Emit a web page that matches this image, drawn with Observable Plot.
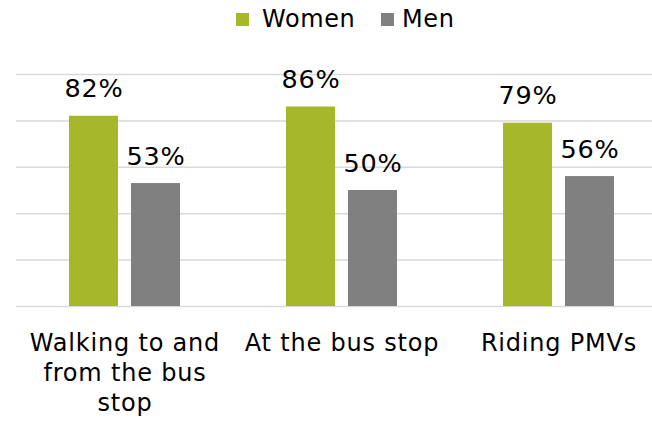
<!DOCTYPE html>
<html>
<head>
<meta charset="utf-8">
<script src="https://cdn.jsdelivr.net/npm/d3@7"></script>
<script src="https://cdn.jsdelivr.net/npm/@observablehq/plot@0.6"></script>
<style>
  html, body { margin: 0; padding: 0; background: #fff; overflow: hidden; width: 652px; height: 426px; }
  #legend { height: 37px; position: relative; font-family: "DejaVu Sans", sans-serif; font-size: 24px; letter-spacing: 0.6px; color: #000; }
  .item { position: absolute; top: 0; height: 37px; display: flex; align-items: center; }
  .sw { width: 13px; height: 13px; display: inline-block; margin-right: 13px; margin-top: 2px; }
  #chart svg { display: block; }
  #chart svg text { letter-spacing: 0.8px; }
</style>
</head>
<body>
<div id="legend"></div>
<div id="chart"></div>
<script>
const categories = ["Walking to and from the bus stop", "At the bus stop", "Riding PMVs"];
const categoryLabels = ["Walking to and\nfrom the bus\nstop", "At the bus stop", "Riding PMVs"];
const series = ["Women", "Men"];
const seriesColors = ["#a6b829", "#808080"];
const women = [82, 86, 79];
const men = [53, 50, 56];
const gridTicks = [0, 20, 40, 60, 80, 100];

const data = categories.flatMap((c, i) => [
  {category: c, gender: "Women", value: women[i]},
  {category: c, gender: "Men", value: men[i]}
]);

// legend
const legend = document.getElementById("legend");
const legendX = [236, 381];
series.forEach((s, i) => {
  const item = document.createElement("div");
  item.className = "item";
  item.style.left = legendX[i] + "px";
  const sw = document.createElement("span");
  sw.className = "sw";
  sw.style.background = seriesColors[i];
  if (i === 1) sw.style.marginRight = "8px";
  item.appendChild(sw);
  item.appendChild(document.createTextNode(s));
  legend.appendChild(item);
});

const chart = Plot.plot({
  width: 652,
  height: 389,
  marginTop: 37,
  marginBottom: 120,
  marginLeft: 16,
  marginRight: -15,
  style: {overflow: "hidden", fontFamily: "'DejaVu Sans', sans-serif", background: "#fff", color: "#000"},
  fx: {domain: categories, padding: 0, axis: null},
  x: {domain: series, paddingInner: 0.21, paddingOuter: 0.855, axis: null},
  y: {domain: [0, 100], axis: null},
  color: {domain: series, range: seriesColors},
  marks: [
    Plot.ruleY(gridTicks, {stroke: "#d9d9d9", strokeWidth: 1.5}),
    Plot.barY(data, {fx: "category", x: "gender", y: "value", fill: "gender"}),
    Plot.text(data, {fx: "category", x: "gender", y: "value", text: d => d.value + "%",
      lineAnchor: "bottom", dy: -19, fontSize: 25.5, fill: "#000"}),
    Plot.text(categories, {fx: d => d, text: (d, i) => categoryLabels[i], frameAnchor: "bottom",
      lineAnchor: "top", dy: 23, fontSize: 24, lineHeight: 1.25, fill: "#000"})
  ]
});
document.getElementById("chart").appendChild(chart);
</script>
</body>
</html>
